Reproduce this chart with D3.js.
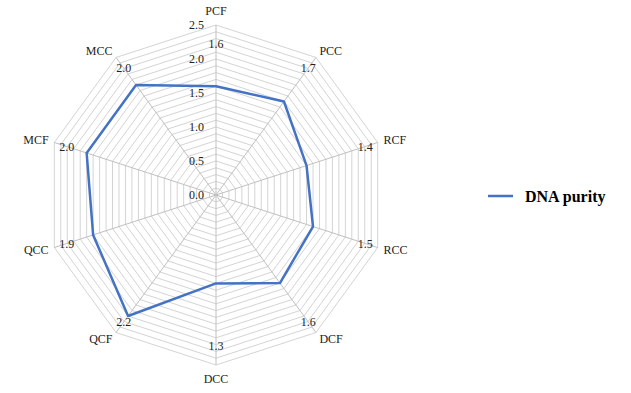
<!DOCTYPE html>
<html><head><meta charset="utf-8">
<script src="https://cdn.jsdelivr.net/npm/d3@7"></script>
<style>body{margin:0;background:#fff;}svg{display:block;}</style>
</head><body>
<svg id="c" width="631" height="393"></svg>
<script>
const categories = ["PCF","PCC","RCF","RCC","DCF","DCC","QCF","QCC","MCF","MCC"];
const values = [1.6, 1.7, 1.4, 1.5, 1.6, 1.3, 2.2, 1.9, 2.0, 2.0];
const tickLabels = ["0.0","0.5","1.0","1.5","2.0","2.5"];
const seriesName = "DNA purity";

const svg = d3.select("#c");
const cx = 216, cy = 195, R = 170;
const maxV = 2.5;
const r = d3.scaleLinear().domain([0, maxV]).range([0, R]);
const ang = d3.scaleLinear().domain([0, categories.length]).range([0, 2*Math.PI]);
const pt = (i, v) => [cx + r(v)*Math.sin(ang(i)), cy - r(v)*Math.cos(ang(i))];

const g = svg.append("g");
const rings = d3.range(1, 26).map(k => k/10);
const ringLine = d3.line();
rings.forEach(v => {
  const pts = categories.map((c,i)=>pt(i,v));
  g.append("path").attr("d", ringLine(pts)+"Z")
   .attr("fill","none").attr("stroke","#d4d4d4").attr("stroke-width",1);
});
categories.forEach((c,i)=>{
  const p = pt(i, maxV);
  g.append("line").attr("x1",cx).attr("y1",cy).attr("x2",p[0]).attr("y2",p[1])
   .attr("stroke","#c0c0c0").attr("stroke-width",1);
});
const font = "'Liberation Serif','Times New Roman',serif";
const txt = "#222";
tickLabels.forEach(t=>{
  svg.append("text").attr("x", cx-12).attr("y", cy - r(+t))
    .attr("dy","0.35em").attr("text-anchor","end")
    .attr("font-family",font).attr("font-size",12).attr("fill",txt).text(t);
});
svg.append("path").attr("d", d3.line()(values.map((v,i)=>pt(i,v)))+"Z")
  .attr("fill","none").attr("stroke","#4472C4").attr("stroke-width",2.5).attr("stroke-linejoin","round");
values.forEach((v,i)=>{
  const a = ang(i);
  const d = Math.abs(Math.sin(a))<0.1 ? 19 : 13;
  const x = cx + (R-d)*Math.sin(a), y = cy - (R-d)*Math.cos(a);
  svg.append("text").attr("x",x).attr("y",y).attr("dy","0.35em").attr("text-anchor","middle")
    .attr("font-family",font).attr("font-size",12).attr("fill",txt).text(v.toFixed(1));
});
categories.forEach((c,i)=>{
  const a = ang(i), s = Math.sin(a), co = Math.cos(a);
  const d = Math.abs(s)<0.1 ? 14 : 8;
  const x = cx + (R+6)*s, y = cy - (R+d)*co;
  svg.append("text").attr("x",x).attr("y",y).attr("dy","0.35em")
    .attr("text-anchor", s>0.1?"start":(s<-0.1?"end":"middle"))
    .attr("font-family",font).attr("font-size",12).attr("fill",txt).text(c);
});
svg.append("line").attr("x1",488).attr("x2",513).attr("y1",196).attr("y2",196)
  .attr("stroke","#4472C4").attr("stroke-width",2.5);
svg.append("text").attr("x",525).attr("y",196).attr("dy","0.35em")
  .attr("font-family",font).attr("font-size",16).attr("font-weight","bold").attr("fill","#000").text(seriesName);
</script>
</body></html>
